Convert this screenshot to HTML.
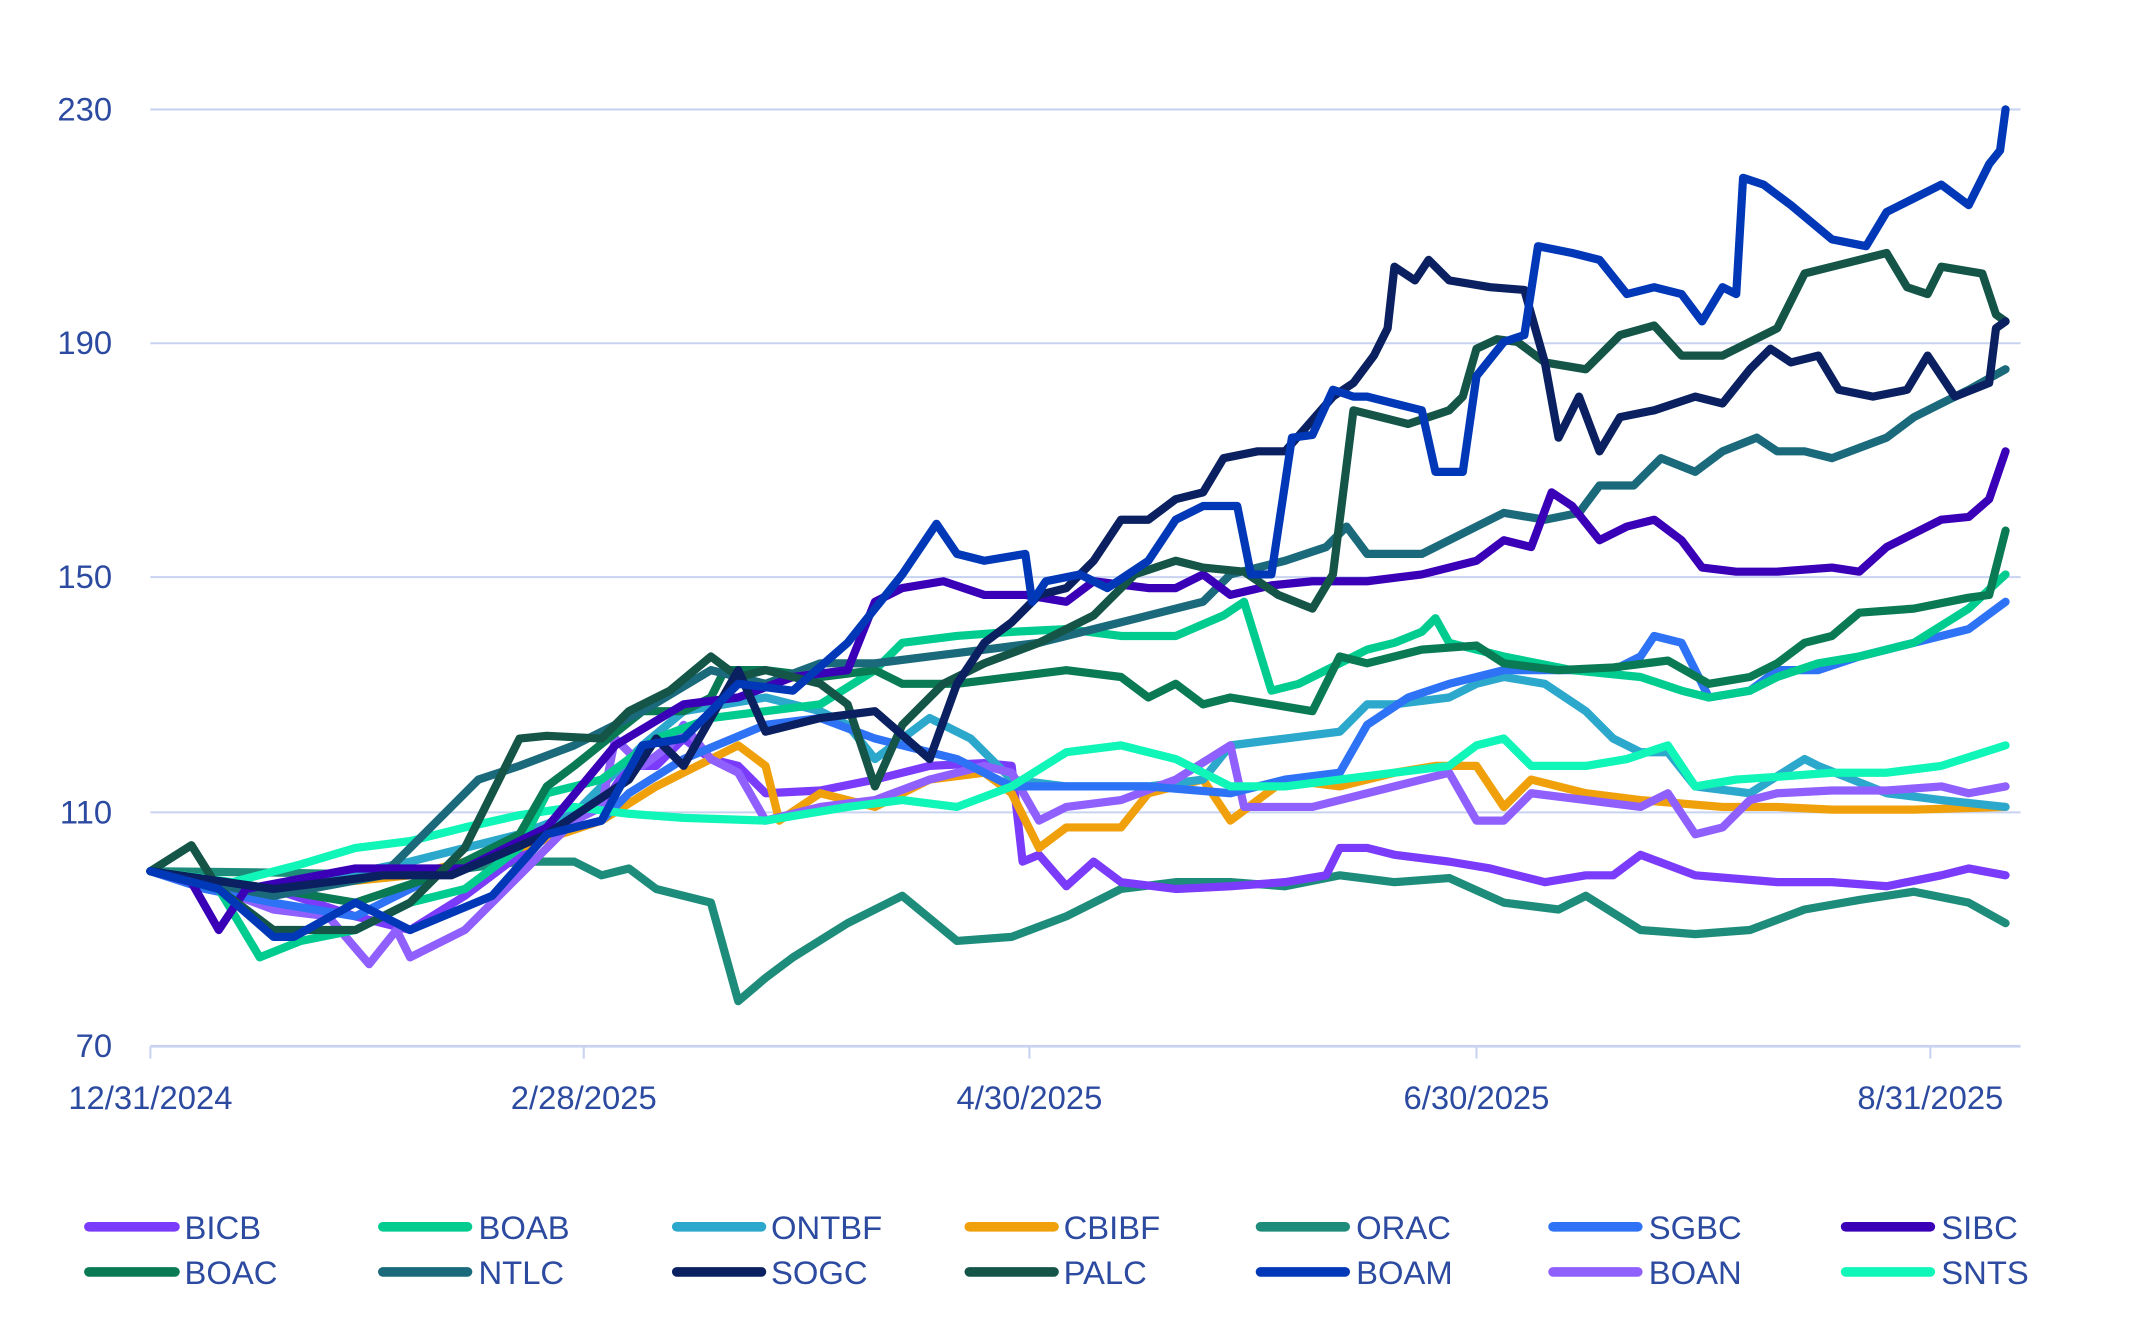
<!DOCTYPE html>
<html><head><meta charset="utf-8"><style>html,body{margin:0;padding:0;background:#fff}svg{display:block}</style></head>
<body>
<svg width="2145" height="1328" viewBox="0 0 1569 971" preserveAspectRatio="none" xmlns="http://www.w3.org/2000/svg" font-family="Liberation Sans, sans-serif">
<g stroke="#C8D3F0" stroke-width="1.5">
<line x1="110" y1="80" x2="1478" y2="80"/><line x1="110" y1="251" x2="1478" y2="251"/>
<line x1="110" y1="422" x2="1478" y2="422"/><line x1="110" y1="594" x2="1478" y2="594"/>
<line x1="110" y1="765" x2="1478" y2="765" stroke-width="2"/>
<line x1="110" y1="765" x2="110" y2="774"/><line x1="427" y1="765" x2="427" y2="774"/><line x1="753" y1="765" x2="753" y2="774"/><line x1="1080" y1="765" x2="1080" y2="774"/><line x1="1412" y1="765" x2="1412" y2="774"/>
</g>
<g fill="#2B4AA0" font-size="24" text-anchor="end">
<text x="82" y="88">230</text><text x="82" y="259">190</text><text x="82" y="430">150</text><text x="82" y="602">110</text><text x="82" y="773">70</text>
</g>
<g fill="#2B4AA0" font-size="24" text-anchor="middle">
<text x="110" y="811">12/31/2024</text><text x="427" y="811">2/28/2025</text><text x="753" y="811">4/30/2025</text><text x="1080" y="811">6/30/2025</text><text x="1412" y="811">8/31/2025</text>
</g>
<g fill="none" stroke-width="6" stroke-linejoin="round" stroke-linecap="round">
<polyline stroke="#1E8C7A" points="110,637 200,638 300,640 380,630 420,630 440,640 460,635 480,650 520,660 540,732 560,715 580,700 620,675 660,655 700,688 740,685 780,670 820,650 860,645 900,645 940,648 980,640 1020,645 1060,642 1100,660 1140,665 1160,655 1200,680 1240,683 1280,680 1320,665 1360,658 1400,652 1440,660 1467,675"/>
<polyline stroke="#7B3BFA" points="110,637 200,650 260,670 300,680 340,655 380,625 420,600 440,590 460,560 480,560 500,540 520,555 540,560 560,580 600,578 640,570 680,560 720,558 740,560 748,630 760,625 780,648 800,630 820,645 860,650 900,648 940,645 970,640 980,620 1000,620 1020,625 1060,630 1090,635 1130,645 1160,640 1180,640 1200,625 1240,640 1300,645 1340,645 1380,648 1420,640 1440,635 1467,640"/>
<polyline stroke="#F0A00A" points="110,637 200,650 300,640 380,620 440,600 480,575 510,560 540,545 560,560 570,600 600,580 640,590 680,570 720,565 740,580 760,620 780,605 820,605 840,580 880,570 900,600 940,570 980,575 1020,565 1050,560 1080,560 1100,590 1120,570 1160,580 1200,585 1260,590 1300,590 1340,592 1400,592 1467,590"/>
<polyline stroke="#2BA8CC" points="110,637 200,650 300,630 380,610 420,595 470,545 500,520 530,515 560,510 600,520 620,530 640,555 680,525 710,540 740,570 780,575 840,575 880,570 900,545 940,540 980,535 1000,515 1020,515 1060,510 1080,500 1100,495 1130,500 1160,520 1180,540 1200,550 1220,550 1240,575 1280,580 1320,555 1330,560 1380,580 1420,585 1467,590"/>
<polyline stroke="#9060FF" points="110,637 160,650 200,665 240,670 270,705 290,680 300,700 340,680 380,640 420,600 440,590 450,540 470,560 490,545 500,530 520,555 540,565 560,600 600,590 640,585 680,570 720,560 740,565 760,600 780,590 820,585 860,570 900,545 910,590 960,590 1000,580 1040,570 1060,565 1080,600 1100,600 1120,580 1160,585 1200,590 1220,580 1240,610 1260,605 1280,585 1300,580 1340,578 1380,578 1420,575 1440,580 1467,575"/>
<polyline stroke="#2E72F5" points="110,637 150,650 200,660 260,670 300,650 340,630 400,610 440,600 460,580 500,555 560,530 600,525 640,540 700,555 740,575 780,575 840,575 900,580 940,570 980,565 1000,530 1030,510 1060,500 1100,490 1140,490 1180,490 1200,480 1210,465 1230,470 1250,510 1280,505 1300,490 1330,490 1360,480 1400,470 1440,460 1467,440"/>
<polyline stroke="#10F5B8" points="110,637 170,645 220,632 260,620 300,615 340,605 380,596 420,590 460,595 500,598 560,600 620,590 660,585 700,590 740,575 780,550 820,545 860,555 880,565 900,575 940,575 980,570 1020,565 1060,560 1080,545 1100,540 1120,560 1160,560 1190,555 1220,545 1240,575 1270,570 1300,568 1340,565 1380,565 1420,560 1467,545"/>
<polyline stroke="#00CC90" points="110,637 160,650 190,700 220,688 260,680 300,660 340,650 380,620 400,580 440,570 480,540 520,525 560,520 600,515 640,490 660,470 700,465 740,462 780,460 820,465 860,465 895,450 910,440 930,505 950,500 980,485 1000,475 1020,470 1040,462 1050,452 1060,470 1100,480 1150,490 1200,495 1230,505 1250,510 1280,505 1300,495 1330,485 1360,480 1400,470 1440,445 1467,420"/>
<polyline stroke="#0A7A55" points="110,637 200,650 260,660 320,640 380,610 400,575 420,560 470,520 500,520 520,510 530,490 560,490 600,495 640,490 660,500 700,500 740,495 780,490 820,495 840,510 860,500 880,515 900,510 930,515 960,520 980,480 1000,485 1020,480 1040,475 1080,472 1100,485 1140,490 1180,488 1220,483 1250,500 1280,495 1300,485 1320,470 1340,465 1360,448 1400,445 1440,437 1455,435 1467,388"/>
<polyline stroke="#1B6A7C" points="110,637 200,655 280,640 320,600 350,570 380,560 420,545 470,520 520,490 560,500 600,485 640,485 680,480 720,475 760,470 800,460 840,450 880,440 900,420 940,410 970,400 985,385 1000,405 1040,405 1070,390 1100,375 1130,380 1155,375 1170,355 1195,355 1215,335 1240,345 1260,330 1285,320 1300,330 1320,330 1340,335 1380,320 1400,305 1420,295 1440,285 1467,270"/>
<polyline stroke="#3A00B8" points="110,637 140,645 160,680 180,650 260,635 340,635 400,605 450,545 500,515 540,510 580,495 620,490 640,440 660,430 690,425 720,435 750,435 780,440 800,425 840,430 860,430 880,420 900,435 930,428 960,425 1000,425 1040,420 1080,410 1100,395 1120,400 1135,360 1150,370 1170,395 1190,385 1210,380 1230,395 1245,415 1270,418 1300,418 1340,415 1360,418 1380,400 1400,390 1420,380 1440,378 1455,365 1467,330"/>
<polyline stroke="#145548" points="110,637 140,618 160,650 200,680 260,680 300,660 340,620 380,540 400,538 440,540 460,520 490,505 520,480 540,495 560,490 600,500 620,515 640,575 660,530 690,500 720,485 760,470 800,450 830,420 860,410 880,415 910,418 935,435 960,445 975,420 990,300 1010,305 1030,310 1060,300 1070,290 1080,255 1095,248 1110,250 1130,265 1160,270 1185,245 1210,238 1230,260 1260,260 1280,250 1300,240 1320,200 1340,195 1360,190 1380,185 1395,210 1410,215 1420,195 1450,200 1460,230 1467,235"/>
<polyline stroke="#0A2060" points="110,637 200,650 280,640 330,640 400,610 460,570 480,540 500,560 520,525 540,490 560,535 600,525 640,520 680,555 700,500 720,470 740,455 760,435 780,430 800,410 820,380 840,380 860,365 880,360 895,335 920,330 940,330 975,290 990,280 1005,260 1015,240 1020,195 1035,205 1045,190 1060,205 1090,210 1115,212 1130,265 1140,320 1155,290 1170,330 1185,305 1210,300 1240,290 1260,295 1280,270 1295,255 1310,265 1330,260 1345,285 1370,290 1395,285 1410,260 1430,290 1455,280 1460,240 1467,235"/>
<polyline stroke="#0038B8" points="110,637 160,650 200,685 215,685 260,660 300,680 360,655 400,610 440,600 470,545 500,540 540,500 580,505 620,470 640,445 660,420 685,383 700,405 720,410 750,405 755,440 765,425 790,420 810,430 840,410 860,380 880,370 905,370 915,420 930,420 945,320 960,318 975,285 990,290 1000,290 1020,295 1040,300 1050,345 1070,345 1080,275 1100,250 1115,245 1125,180 1150,185 1170,190 1190,215 1210,210 1230,215 1245,235 1260,210 1270,215 1275,130 1290,135 1310,150 1340,175 1365,180 1380,155 1400,145 1420,135 1440,150 1455,120 1463,110 1467,80"/>
</g>
<g stroke-width="7" stroke-linecap="round">
<line x1="65" y1="897" x2="128" y2="897" stroke="#7B3BFA"/><line x1="280" y1="897" x2="342" y2="897" stroke="#00CC90"/><line x1="495" y1="897" x2="557" y2="897" stroke="#2BA8CC"/><line x1="709" y1="897" x2="771" y2="897" stroke="#F0A00A"/><line x1="922" y1="897" x2="984" y2="897" stroke="#1E8C7A"/><line x1="1136" y1="897" x2="1198" y2="897" stroke="#2E72F5"/><line x1="1350" y1="897" x2="1412" y2="897" stroke="#3A00B8"/>
<line x1="65" y1="930" x2="128" y2="930" stroke="#0A7A55"/><line x1="280" y1="930" x2="342" y2="930" stroke="#1B6A7C"/><line x1="495" y1="930" x2="557" y2="930" stroke="#0A2060"/><line x1="709" y1="930" x2="771" y2="930" stroke="#145548"/><line x1="922" y1="930" x2="984" y2="930" stroke="#0038B8"/><line x1="1136" y1="930" x2="1198" y2="930" stroke="#9060FF"/><line x1="1350" y1="930" x2="1412" y2="930" stroke="#10F5B8"/>
</g>
<g fill="#2B4AA0" font-size="24">
<text x="135" y="906">BICB</text><text x="350" y="906">BOAB</text><text x="564" y="906">ONTBF</text><text x="778" y="906">CBIBF</text><text x="992" y="906">ORAC</text><text x="1206" y="906">SGBC</text><text x="1420" y="906">SIBC</text>
<text x="135" y="939">BOAC</text><text x="350" y="939">NTLC</text><text x="564" y="939">SOGC</text><text x="778" y="939">PALC</text><text x="992" y="939">BOAM</text><text x="1206" y="939">BOAN</text><text x="1420" y="939">SNTS</text>
</g>
</svg>
</body></html>
